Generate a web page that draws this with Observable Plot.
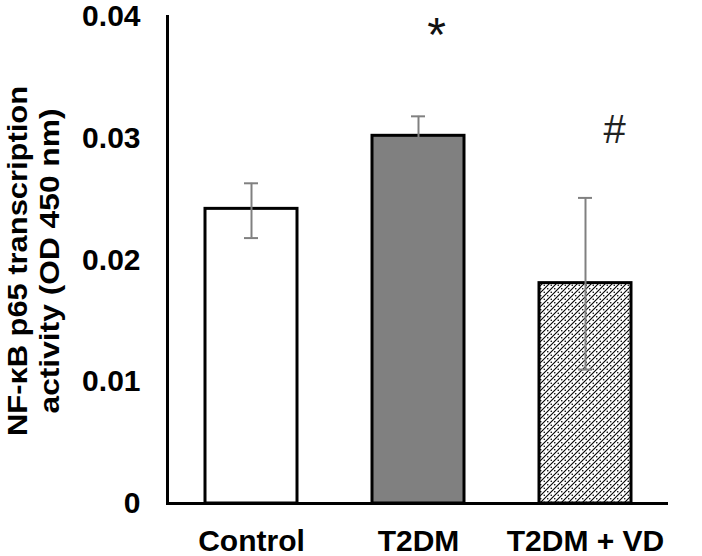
<!DOCTYPE html>
<html><head><meta charset="utf-8">
<script src="https://cdn.jsdelivr.net/npm/d3@7"></script>
<script src="https://cdn.jsdelivr.net/npm/@observablehq/plot@0.6"></script>
<style>body{margin:0;background:#fff} svg{display:block}</style>
</head><body><div id="chart"></div>
<script>
const groups = ["Control", "T2DM", "T2DM + VD"];
const means = [0.0242, 0.0302, 0.0181];
const errLow = [0.0218, 0.0286, 0.0110];
const errHigh = [0.0263, 0.0318, 0.0251];
const sigMarks = ["", "*", "#"];
const yTicks = [0, 0.01, 0.02, 0.03, 0.04];
const yLabelLine1 = "NF-κB p65 transcription";
const yLabelLine2 = "activity (OD 450 nm)";

// styles (kept apart from the data)
const barFills = ["#ffffff", "#808080", "url(#hatch)"];
const errColor = "#808080";
const font = "'Liberation Sans', Arial, sans-serif";

const data = groups.map((g, i) => ({group: g, mean: means[i], lo: errLow[i], hi: errHigh[i], mark: sigMarks[i]}));

const chart = Plot.plot({
  width: 702, height: 556,
  marginLeft: 167, marginRight: 34, marginTop: 16, marginBottom: 53,
  style: {fontFamily: font, background: "#fff", color: "#000"},
  x: {domain: groups, paddingInner: 0.45, paddingOuter: 0.225, label: null},
  y: {domain: [0, 0.04], label: null},
  fill: {type: "identity"},
  marks: [
    Plot.barY(data, {x: "group", y: "mean", fill: (d, i) => barFills[i], stroke: "#000", strokeWidth: 3}),
    Plot.ruleX(data, {x: "group", y1: "lo", y2: "hi", stroke: errColor, strokeWidth: 2}),
    Plot.tickY(data, {x: "group", y: "lo", stroke: errColor, strokeWidth: 2, insetLeft: 39, insetRight: 39}),
    Plot.tickY(data, {x: "group", y: "hi", stroke: errColor, strokeWidth: 2, insetLeft: 39, insetRight: 39}),
    Plot.ruleY([0], {stroke: "#000", strokeWidth: 3}),
    Plot.frame({anchor: "left", stroke: "#000", strokeWidth: 3}),
    Plot.axisY({ticks: yTicks, tickFormat: d => String(d), tickSize: 0, tickPadding: 27, fontSize: 30, fontWeight: "bold", label: null}),
    Plot.axisX({tickSize: 0, tickPadding: 26, fontSize: 30, fontWeight: "bold", label: null}),
    Plot.text(data.filter(d => d.mark === "*"), {x: "group", y: "hi", text: "mark", dx: 18, dy: -81, fontSize: 48, fill: "#111"}),
    Plot.text(data.filter(d => d.mark === "#"), {x: "group", y: "hi", text: "mark", dx: 29, dy: -68, fontSize: 40, fill: "#222"}),
    Plot.text([yLabelLine1], {text: d => d, frameAnchor: "left", textAnchor: "middle", lineAnchor: "middle", dx: -149, dy: 1, rotate: -90, fontSize: 28, fontWeight: "bold", fill: "#000"}),
    Plot.text([yLabelLine2], {text: d => d, frameAnchor: "left", textAnchor: "middle", lineAnchor: "middle", dx: -117, dy: 1, rotate: -90, fontSize: 28, fontWeight: "bold", fill: "#000"})
  ]
});

const ns = "http://www.w3.org/2000/svg";
const defs = document.createElementNS(ns, "defs");
defs.innerHTML = `<pattern id="hatch" patternUnits="userSpaceOnUse" width="7" height="7">
  <rect width="7" height="7" fill="#fff"/>
  <path d="M-2,2 L2,-2 M0,7 L7,0 M5,9 L9,5" stroke="#000" stroke-width="1.1"/>
  <circle cx="1.75" cy="1.75" r="0.8" fill="#000"/>
  <circle cx="5.25" cy="5.25" r="0.8" fill="#000"/>
</pattern>`;
chart.insertBefore(defs, chart.firstChild);

// stretch the y-label lines to the reference's length
const labelLengths = new Map([[yLabelLine1, 350], [yLabelLine2, 305]]);
chart.querySelectorAll("text").forEach(t => {
  const L = labelLengths.get(t.textContent);
  if (L) { t.setAttribute("textLength", L); t.setAttribute("lengthAdjust", "spacingAndGlyphs"); }
});
document.getElementById("chart").appendChild(chart);
</script>
</body></html>
